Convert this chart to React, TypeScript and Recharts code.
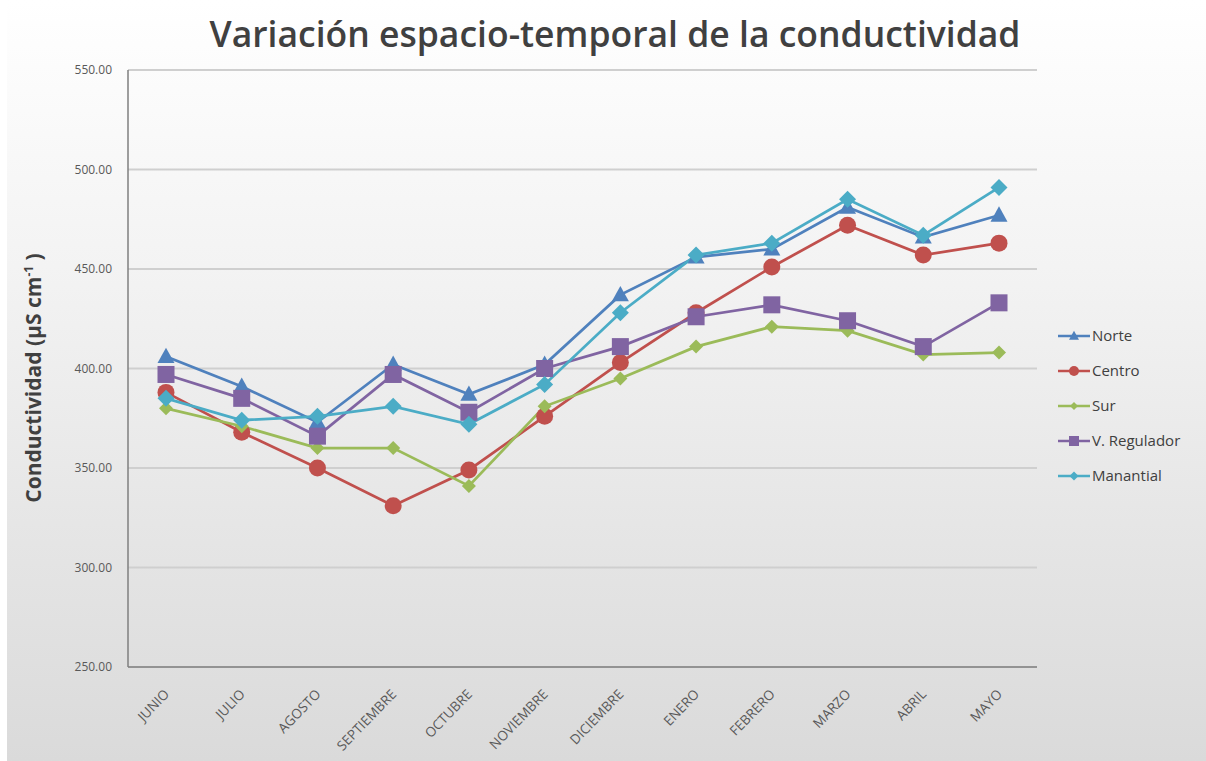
import React from "react";
import { LineChart, Line, XAxis, YAxis, CartesianGrid, Label } from "recharts";

const months = ["JUNIO", "JULIO", "AGOSTO", "SEPTIEMBRE", "OCTUBRE", "NOVIEMBRE", "DICIEMBRE", "ENERO", "FEBRERO", "MARZO", "ABRIL", "MAYO"];
const norte = [406, 391, 373, 402, 387, 402, 437, 456, 460, 481, 466, 477];
const centro = [388, 368, 350, 331, 349, 376, 403, 428, 451, 472, 457, 463];
const sur = [380, 371, 360, 360, 341, 381, 395, 411, 421, 419, 407, 408];
const regulador = [397, 385, 366, 397, 378, 400, 411, 426, 432, 424, 411, 433];
const manantial = [385, 374, 376, 381, 372, 392, 428, 457, 463, 485, 467, 491];
const yTicks = [250, 300, 350, 400, 450, 500, 550];

const data = months.map((m, i) => ({
  month: m,
  norte: norte[i],
  centro: centro[i],
  sur: sur[i],
  regulador: regulador[i],
  manantial: manantial[i],
}));

const C = {
  norte: "#4F81BD",
  centro: "#C0504D",
  sur: "#9BBB59",
  regulador: "#8064A2",
  manantial: "#4BACC6",
};

type ShapeKind = "triangle" | "circle" | "diamond" | "square";

function Marker({ cx, cy, kind, color, s }: { cx: number; cy: number; kind: ShapeKind; color: string; s: number }) {
  if (cx == null || cy == null) return null;
  if (kind === "triangle") {
    return <polygon points={`${cx},${cy - s * 1.05} ${cx + s},${cy + s * 0.75} ${cx - s},${cy + s * 0.75}`} fill={color} />;
  }
  if (kind === "circle") return <circle cx={cx} cy={cy} r={s} fill={color} />;
  if (kind === "square") return <rect x={cx - s} y={cy - s} width={2 * s} height={2 * s} fill={color} />;
  return <polygon points={`${cx},${cy - s} ${cx + s},${cy} ${cx},${cy + s} ${cx - s},${cy}`} fill={color} />;
}

const series: { key: string; name: string; kind: ShapeKind; size: number; lsize: number }[] = [
  { key: "norte", name: "Norte", kind: "triangle", size: 8.5, lsize: 5 },
  { key: "centro", name: "Centro", kind: "circle", size: 8.5, lsize: 5 },
  { key: "sur", name: "Sur", kind: "diamond", size: 7, lsize: 4 },
  { key: "regulador", name: "V. Regulador", kind: "square", size: 8.5, lsize: 5 },
  { key: "manantial", name: "Manantial", kind: "diamond", size: 8.5, lsize: 4.5 },
];

const FONT = "'Open Sans', 'Noto Sans', sans-serif";

function XTick(props: any) {
  const { x, y, payload } = props;
  const ax = x + 4;
  const ay = y + 20;
  return (
    <text
      x={ax}
      y={ay}
      transform={`rotate(-46 ${ax} ${ay})`}
      textAnchor="end"
      fontSize={13.5}
      fill="#595959"
      fontFamily={FONT}
    >
      {payload.value}
    </text>
  );
}

function LegendBox() {
  return (
    <svg width={160} height={190} style={{ position: "absolute", left: 1049, top: 320 }}>
      {series.map((s, i) => {
        const y = 16 + i * 35;
        const col = (C as any)[s.key];
        return (
          <g key={s.key}>
            <line x1={2} x2={34} y1={y} y2={y} stroke={col} strokeWidth={2.5} />
            <Marker cx={18} cy={y} kind={s.kind} color={col} s={s.lsize} />
            <text x={36} y={y + 5} fontSize={15} fill="#404040" fontFamily={FONT}>
              {s.name}
            </text>
          </g>
        );
      })}
    </svg>
  );
}

function YLabel() {
  const cx = 34;
  const cy = 378;
  return (
    <text
      x={cx}
      y={cy}
      transform={`rotate(-90 ${cx} ${cy})`}
      textAnchor="middle"
      fontSize={21}
      fontWeight="bold"
      fill="#404040"
      fontFamily={FONT}
    >
      Conductividad (µS cm
      <tspan dy={-8} fontSize={12}>-1</tspan>
      <tspan dy={8}> )</tspan>
    </text>
  );
}

export default function App() {
  return (
    <div
      style={{
        position: "absolute",
        left: 7,
        top: 0,
        width: 1199,
        height: 761,
        background: "linear-gradient(to bottom, #ffffff 0%, #f3f3f3 35%, #dadada 100%)",
        overflow: "hidden",
      }}
    >
      <div
        style={{
          position: "absolute",
          left: 0,
          width: 1216,
          top: 9,
          textAlign: "center",
          fontFamily: FONT,
          fontSize: 35.5,
          fontWeight: 600,
          color: "#404040",
        }}
      >
        Variación espacio-temporal de la conductividad
      </div>
      <LineChart
        width={1199}
        height={761}
        data={data}
        margin={{ top: 70, right: 169, left: 0, bottom: 14 }}
        style={{ position: "absolute", left: 0, top: 0 }}
      >
        <CartesianGrid vertical={false} stroke="#cfcfcf" strokeWidth={2} />
        <XAxis
          dataKey="month"
          height={80}
          tick={<XTick />}
          tickLine={false}
          axisLine={{ stroke: "#7f7f7f", strokeWidth: 1.5 }}
          interval={0}
          padding={{ left: 38, right: 38 }}
        />
        <YAxis
          width={121}
          domain={[250, 550]}
          ticks={yTicks}
          tickFormatter={(v: number) => v.toFixed(2)}
          tick={{ fontSize: 12, fill: "#595959", fontFamily: FONT }}
          tickLine={false}
          tickMargin={10}
          axisLine={{ stroke: "#7f7f7f", strokeWidth: 1.5 }}
          interval={0}
        >
          <Label content={<YLabel />} />
        </YAxis>
        {series.map((s) => (
          <Line
            key={s.key}
            type="linear"
            dataKey={s.key}
            name={s.name}
            stroke={(C as any)[s.key]}
            strokeWidth={2.75}
            isAnimationActive={false}
            dot={(p: any) => (
              <Marker key={`${s.key}-${p.index}`} cx={p.cx} cy={p.cy} kind={s.kind} color={(C as any)[s.key]} s={s.size} />
            )}
            activeDot={false}
          />
        ))}
      </LineChart>
      <LegendBox />
    </div>
  );
}
